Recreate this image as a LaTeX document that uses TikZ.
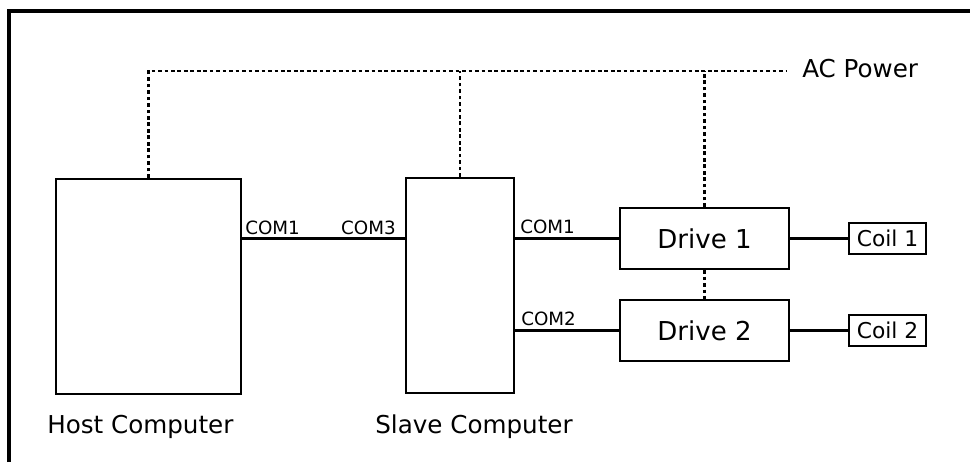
\documentclass[tikz,border=0pt]{standalone}
\usepackage{fontspec}
\setmainfont{DejaVu Sans}
\usepackage{tikz}
\tikzset{
  wire/.style={line width=1.6pt},
  powerline/.style={line width=1.6pt, dash pattern=on 2.6pt off 2pt},
  framerule/.style={line width=2.4pt},
  pcbox/.style={draw, line width=1.6pt, minimum height=5.375cm, inner sep=0pt},
  drivebox/.style={draw, line width=1.6pt, minimum width=4.225cm, minimum height=1.525cm, font=\fontsize{18.5}{20}\selectfont},
  coilbox/.style={draw, line width=1.6pt, minimum width=1.925cm, minimum height=0.775cm, inner sep=1pt, font=\fontsize{15.5}{17}\selectfont},
  portlabel/.style={inner sep=0pt, font=\fontsize{13}{15}\selectfont},
  caption/.style={inner sep=0pt, font=\fontsize{17.5}{20}\selectfont}
}

\begin{document}
\begin{tikzpicture}[x=0.025cm, y=-0.025cm]
  \useasboundingbox (0,0) rectangle (970,462);
  \draw[framerule] (9,462) -- (9,11) -- (970,11);

  \node[pcbox, minimum width=4.625cm] (host) at (148.5,286.5) {};
  \node[pcbox, minimum width=2.7cm] (slave) at (460,285.5) {};
  \node[drivebox] (drive1) at (704.5,238.5) {Drive 1};
  \node[drivebox] (drive2) at (704.5,330.5) {Drive 2};
  \node[coilbox] (coil1) at (887.5,238.5) {Coil 1};
  \node[coilbox] (coil2) at (887.5,330.5) {Coil 2};

  \node[caption, anchor=base west] (hostcap) at (47,433) {Host Computer};
  \node[caption, anchor=base west] (slavecap) at (375,433) {Slave Computer};
  \node[caption, anchor=base west] (acpower) at (802,77) {AC Power};

  \node[portlabel, anchor=base west] (hcom1) at (245,234) {COM1};
  \node[portlabel, anchor=base east] (scom3) at (396,234) {COM3};
  \node[portlabel, anchor=base west] (scom1) at (520,233) {COM1};
  \node[portlabel, anchor=base west] (scom2) at (521,325) {COM2};

  % serial links
  \draw[wire] (host.east |- drive1.west) -- (slave.west |- drive1.west);
  \draw[wire] (slave.east |- drive1.west) -- (drive1.west);
  \draw[wire] (slave.east |- drive2.west) -- (drive2.west);
  \draw[wire] (drive1) -- (coil1);
  \draw[wire] (drive2) -- (coil2);

  % mains
  \coordinate (acend) at (787,71);
  \draw[powerline] (host.north) |- (acend);
  \draw[powerline] (slave.north) -- (slave.north |- acend);
  \draw[powerline] (drive1.north) -- (drive1.north |- acend);
  \draw[powerline] (drive1.south) -- (drive2.north);
\end{tikzpicture}
\end{document}
